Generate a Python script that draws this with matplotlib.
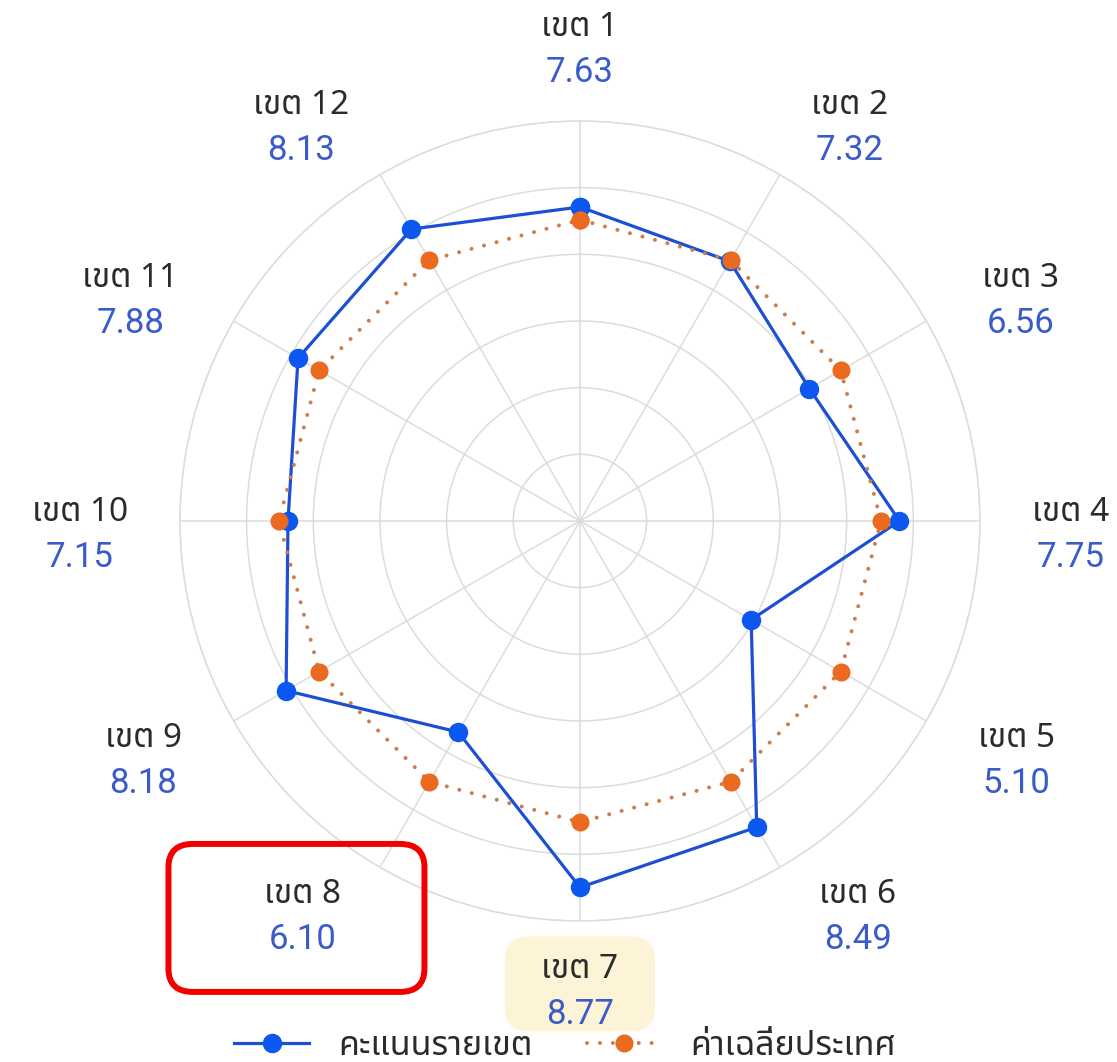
import matplotlib
matplotlib.use('Agg')
import matplotlib.pyplot as plt
import numpy as np
from matplotlib.patches import FancyBboxPatch
from matplotlib.lines import Line2D

# data
districts = ['เขต 1', 'เขต 2', 'เขต 3', 'เขต 4', 'เขต 5', 'เขต 6',
             'เขต 7', 'เขต 8', 'เขต 9', 'เขต 10', 'เขต 11', 'เขต 12']
scores = [7.63, 7.32, 6.56, 7.75, 5.10, 8.49, 8.77, 6.10, 8.18, 7.15, 7.88, 8.13]
national_avg = 7.35
series_names = ['คะแนนรายเขต', 'ค่าเฉลี่ยประเทศ']
highlight_best = 'เขต 7'
highlight_worst = 'เขต 8'

plt.rcParams['font.family'] = ['Noto Sans Thai', 'Roboto', 'DejaVu Sans']

BLUE = '#1c4fd4'
BLUE_DOT = '#0b57f0'
ORANGE = '#ea6a1f'
DOTS = '#cc7d4f'
GRID = '#dcdcdc'
NAME_C = '#2b2b2b'
VALUE_C = '#3a5bc9'

fig = plt.figure(figsize=(11.17, 10.62), dpi=100)
ax = fig.add_axes([0.1611, 0.1328, 0.7162, 0.7533], projection='polar')

n = len(districts)
theta = np.linspace(0, 2 * np.pi, n, endpoint=False)
rmin, rmax = 0.8, 9.5

ax.set_theta_zero_location('N')
ax.set_theta_direction(-1)
ax.set_ylim(rmin, rmax)
ax.set_yticks(np.linspace(rmin, rmax, 7)[1:])
ax.set_yticklabels([])
ax.set_xticks(theta)
ax.set_xticklabels([])
ax.grid(True, color=GRID, linewidth=1.1)
ax.spines['polar'].set_color(GRID)
ax.spines['polar'].set_linewidth(1.1)
ax.tick_params(length=0)

tc = np.append(theta, theta[0])
sc = np.append(scores, scores[0])
avg = np.full(n + 1, national_avg)

blue_style = dict(color=BLUE, linewidth=2.3, marker='o', markersize=13,
                  markerfacecolor=BLUE_DOT, markeredgecolor=BLUE_DOT)
orange_style = dict(color=DOTS, linewidth=2.9, linestyle=(0, (0.01, 3.2)),
                    dash_capstyle='round', marker='o', markersize=12,
                    markerfacecolor=ORANGE, markeredgecolor=ORANGE)
ax.plot(tc, sc, zorder=3, clip_on=False, **blue_style)
ax.plot(tc, avg, zorder=4, **orange_style)

# labels around the chart, laid out in pixels from the polar centre
fig.canvas.draw()
renderer = fig.canvas.get_renderer()
W, H = fig.bbox.width, fig.bbox.height
cx, cy = ax.transData.transform((0, rmin))
fold_pts = [30, 60, 90, 120, 150]
r_side = [462, 464, 452, 460, 478]
dy_side = [7, 12.5, 14.5, 10, -18]

centers = {}
for t, name, val in zip(theta, districts, scores):
    fold = min(np.degrees(t), 360 - np.degrees(t))
    side = np.round(np.sin(t), 6)
    if side == 0:
        bx, by = cx, cy + 471 * np.cos(t)
    else:
        r = np.interp(fold, fold_pts, r_side)
        bx = cx + r * np.sin(t)
        by = cy + r * np.cos(t) - np.interp(fold, fold_pts, dy_side)
    tn = fig.text(bx / W, (by + 22.5) / H, name, ha='center', va='center',
                  fontsize=24, fontweight='medium', color=NAME_C)
    tv = fig.text(bx / W, (by - 22.5) / H, f'{val:.2f}', ha='center', va='center',
                  fontsize=25, color=VALUE_C, family=['Roboto', 'DejaVu Sans'])
    if side != 0:
        w = max(tn.get_window_extent(renderer).width, tv.get_window_extent(renderer).width)
        bx = bx + np.sign(side) * w / 2
        tn.set_x(bx / W)
        tv.set_x(bx / W)
    centers[name] = (bx, by)


def box_around(name, width, height, dx=0, dy=0, **kw):
    bx, by = centers[name]
    x0, y0 = bx + dx - width / 2, by + dy - height / 2
    p = FancyBboxPatch((x0 / W, y0 / H), width / W, height / H,
                       boxstyle='round,pad=0,rounding_size=0.022', transform=fig.transFigure,
                       **kw)
    fig.patches.append(p)


box_around(highlight_best, 150, 95, dy=8, facecolor='#fdf3d6', edgecolor='none', zorder=-1)
box_around(highlight_worst, 256, 148, dx=-6, dy=-1, facecolor='none', edgecolor='#f20000',
           linewidth=4.3, zorder=5)

handles = [Line2D([], [], **blue_style), Line2D([], [], **orange_style)]
fig.legend(handles, series_names, loc='center', bbox_to_anchor=(0.506, 0.015), ncol=2,
           frameon=False, fontsize=24.5, handlelength=2.2, handletextpad=0.85,
           columnspacing=1.6, labelcolor=NAME_C, prop={'weight': 'medium', 'size': 24.5})

fig.savefig('out.png', dpi=100, facecolor='white')
